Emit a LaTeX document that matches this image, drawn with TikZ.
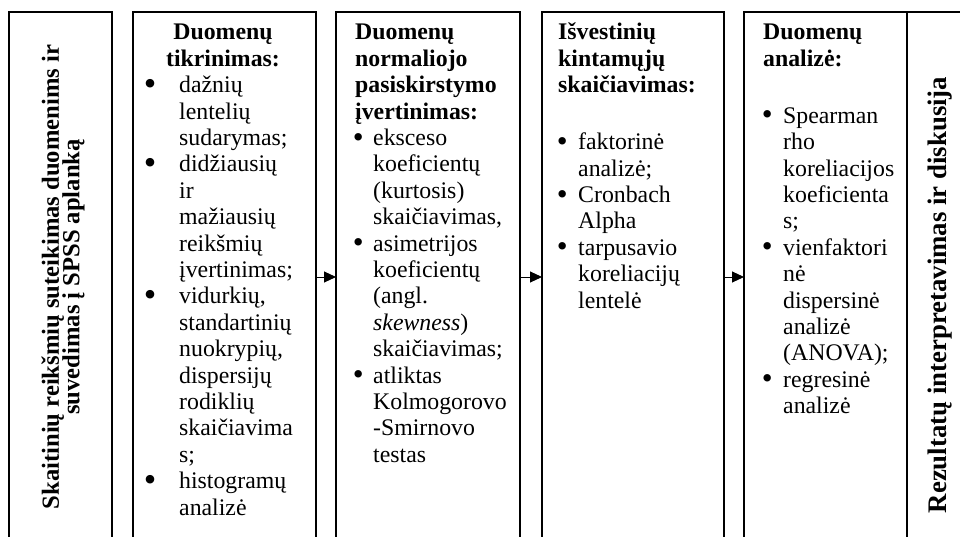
\documentclass[tikz,border=0pt]{standalone}
\usepackage{fontspec}
\setmainfont{Liberation Serif}
\usetikzlibrary{arrows.meta}
% keep the given baselineskip even when glyphs come close
\newcommand{\tightlines}{\lineskiplimit=-50pt\relax}
% list bullet, slightly enlarged and lowered so it sits on the x-height middle
\newcommand{\dotmark}[1]{\raisebox{-#1pt}{\scalebox{1.3}{\textbullet}}}
% bullet centred #1pt after the line start, item text #2pt further on
\newcommand{\itmark}[2]{\hspace*{#1pt}\makebox[0pt]{\dotmark{1.6}}\hspace*{#2pt}}
% larger bullet of the second stage
\newcommand{\itmarkb}[2]{\hspace*{#1pt}\makebox[0pt]{\raisebox{-2.6pt}{\scalebox{1.5}{\textbullet}}}\hspace*{#2pt}}
% continuation line of an item
\newcommand{\itcont}[1]{\hspace*{#1pt}}
\begin{document}
\begin{tikzpicture}[x=1pt,y=-1pt,
  panel/.style={draw, line width=1.2pt, minimum height=530pt, anchor=north west,
    inner sep=0pt, outer sep=0pt},
  body/.style={anchor=base west, inner sep=0pt, text width=240pt, align=left,
    font=\fontsize{23.8}{26.4}\selectfont\tightlines},
  head/.style={anchor=base, inner sep=0pt, text width=180pt, align=center,
    font=\bfseries\fontsize{23.8}{26.4}\selectfont\tightlines},
  vert/.style={rotate=90, align=center, inner sep=0pt,
    font=\bfseries\fontsize{24.6}{20.5}\selectfont\tightlines},
  flow/.style={line width=1pt, -{Triangle[length=12pt,width=11pt]}}]
\useasboundingbox (0,0) rectangle (960,537);
\clip (0,0) rectangle (960,537);

% the six stages
\node[panel, minimum width=103pt] (b1) at (9,12) {};
\node[panel, minimum width=183pt] (b2) at (133,12) {};
\node[panel, minimum width=184pt] (b3) at (336,12) {};
\node[panel, minimum width=182pt] (b4) at (542,12) {};
\node[panel, minimum width=163pt] (b5) at (744,12) {};
\node[panel, minimum width=90pt] (b6) at (907,12) {};

% stage 1
\node[vert] (t1) at (63,277)
  {Skaitinių reikšmių suteikimas duomenims ir\\suvedimas į SPSS aplanką};

% stage 2
\node[head] (h2) at (223,40) {Duomenų\\tikrinimas:};
\node[body] (t2) at (133,92.8) {%
\itmarkb{17}{29}dažnių\\
\itcont{46}lentelių\\
\itcont{46}sudarymas;\\
\itmarkb{17}{29}didžiausių\\
\itcont{46}ir\\
\itcont{46}mažiausių\\
\itcont{46}reikšmių\\
\itcont{46}įvertinimas;\\
\itmarkb{17}{29}vidurkių,\\
\itcont{46}standartinių\\
\itcont{46}nuokrypių,\\
\itcont{46}dispersijų\\
\itcont{46}rodiklių\\
\itcont{46}skaičiavima\\
\itcont{46}s;\\
\itmarkb{17}{29}histogramų\\
\itcont{46}analizė};

% stage 3
\node[body] (t3) at (336,40) {%
\itcont{19}\textbf{Duomenų}\\
\itcont{19}\textbf{normaliojo}\\
\itcont{19}\textbf{pasiskirstymo}\\
\itcont{19}\textbf{įvertinimas:}\\
\itmark{22}{15}eksceso\\
\itcont{37}koeficientų\\
\itcont{37}(kurtosis)\\
\itcont{37}skaičiavimas,\\
\itmark{22}{15}asimetrijos\\
\itcont{37}koeficientų\\
\itcont{37}(angl.\\
\itcont{37}\textit{skewness})\\
\itcont{37}skaičiavimas;\\
\itmark{22}{15}atliktas\\
\itcont{37}Kolmogorovo\\
\itcont{37}-Smirnovo\\
\itcont{37}testas};

% stage 4
\node[body] (t4) at (542,40) {%
\itcont{16}\textbf{Išvestinių}\\
\itcont{16}\textbf{kintamųjų}\\
\itcont{16}\textbf{skaičiavimas:}\\[30.6pt]
\itmark{20}{16}faktorinė\\
\itcont{36}analizė;\\
\itmark{20}{16}Cronbach\\
\itcont{36}Alpha\\
\itmark{20}{16}tarpusavio\\
\itcont{36}koreliacijų\\
\itcont{36}lentelė};

% stage 5
\node[body] (t5) at (744,40) {%
\itcont{19}\textbf{Duomenų}\\
\itcont{19}\textbf{analizė:}\\[30.6pt]
\itmark{23}{16}Spearman\\
\itcont{39}rho\\
\itcont{39}koreliacijos\\
\itcont{39}koeficienta\\
\itcont{39}s;\\
\itmark{23}{16}vienfaktori\\
\itcont{39}nė\\
\itcont{39}dispersinė\\
\itcont{39}analizė\\
\itcont{39}(ANOVA);\\
\itmark{23}{16}regresinė\\
\itcont{39}analizė};

% stage 6
\node[vert, font=\bfseries\fontsize{26.8}{26.8}\selectfont] (t6) at (940,295)
  {Rezultatų interpretavimas ir diskusija};

% transitions
\draw[flow] (b2.east) -- (b3.west);
\draw[flow] (b3.east) -- (b4.west);
\draw[flow] (b4.east) -- (b5.west);
\end{tikzpicture}
\end{document}
